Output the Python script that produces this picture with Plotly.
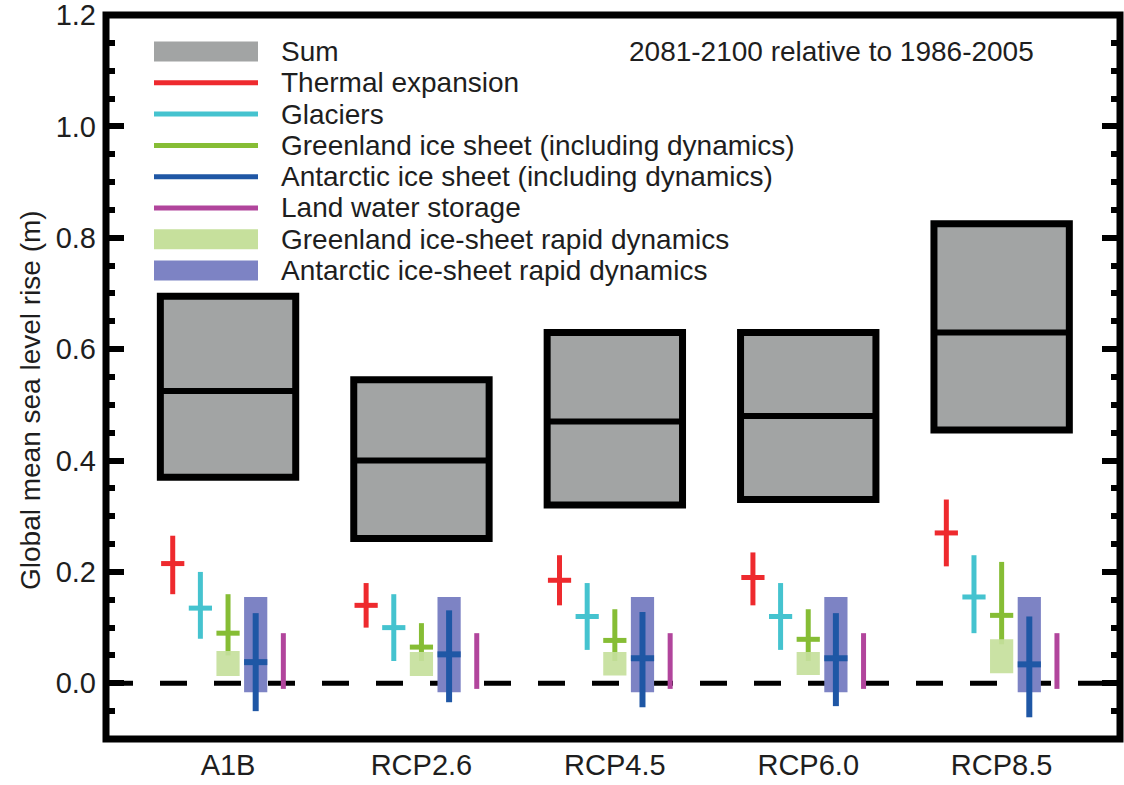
import plotly.graph_objects as go

# ---------------------------------------------------------------------------
# Projected global mean sea level rise, 2081-2100 relative to 1986-2005 (m)
# ---------------------------------------------------------------------------
scenarios = ["A1B", "RCP2.6", "RCP4.5", "RCP6.0", "RCP8.5"]

sum_low = [0.37, 0.26, 0.32, 0.33, 0.455]
sum_median = [0.525, 0.40, 0.47, 0.48, 0.63]
sum_high = [0.695, 0.545, 0.63, 0.63, 0.825]

thermal_low = [0.16, 0.10, 0.14, 0.14, 0.21]
thermal_median = [0.215, 0.14, 0.185, 0.19, 0.27]
thermal_high = [0.265, 0.18, 0.23, 0.235, 0.33]

glaciers_low = [0.08, 0.04, 0.06, 0.06, 0.09]
glaciers_median = [0.135, 0.10, 0.12, 0.12, 0.155]
glaciers_high = [0.20, 0.16, 0.18, 0.18, 0.23]

greenland_low = [0.05, 0.04, 0.04, 0.04, 0.07]
greenland_median = [0.09, 0.065, 0.077, 0.079, 0.122]
greenland_high = [0.16, 0.108, 0.133, 0.133, 0.218]

antarctic_low = [-0.05, -0.034, -0.043, -0.041, -0.061]
antarctic_median = [0.038, 0.052, 0.045, 0.045, 0.034]
antarctic_high = [0.126, 0.131, 0.128, 0.126, 0.12]

land_low = [-0.01, -0.01, -0.01, -0.01, -0.01]
land_high = [0.09, 0.09, 0.09, 0.09, 0.09]

greenland_rapid_low = [0.013, 0.013, 0.014, 0.015, 0.018]
greenland_rapid_high = [0.058, 0.056, 0.056, 0.056, 0.079]

antarctic_rapid_low = [-0.016, -0.016, -0.016, -0.016, -0.016]
antarctic_rapid_high = [0.155, 0.155, 0.155, 0.155, 0.155]

y_ticks = [0.0, 0.2, 0.4, 0.6, 0.8, 1.0, 1.2]

# ---------------------------------------------------------------------------
# Styling
# ---------------------------------------------------------------------------
FONT = "Liberation Sans, Arial, Helvetica, sans-serif"
TEXT = "#1e1e1e"
C_SUM = "#a2a4a4"
C_THERMAL = "#ee2a2e"
C_GLACIERS = "#45c3cf"
C_GREENLAND = "#86bd35"
C_ANTARCTIC = "#1f57a5"
C_LAND = "#b1459c"
C_GREEN_RAPID = "#c6e09c"
C_ANT_RAPID = "#7d83c4"

W, H = 1124, 785
M_L, M_R, M_T, M_B = 106, 4, 15, 46
PLOT_W = W - M_L - M_R
PLOT_H = H - M_T - M_B

x_pos = [i + 1 for i in range(len(scenarios))]
SUM_HALF = 0.35
CROSS_HALF = 0.06
BOX_HALF = 0.06
STEP = 0.143  # spacing between component whiskers


def px_x(p):
    return (p - M_L) / PLOT_W


def px_y(p):
    return (H - M_B - p) / PLOT_H


def whiskers(offset, lows, highs, mids=None):
    xs, ys = [], []
    for i, x in enumerate(x_pos):
        xc = x + offset
        xs += [xc, xc, None]
        ys += [lows[i], highs[i], None]
        if mids is not None:
            xs += [xc - CROSS_HALF, xc + CROSS_HALF, None]
            ys += [mids[i], mids[i], None]
    return xs, ys


def boxes(offset, lows, highs):
    xs, ys = [], []
    for i, x in enumerate(x_pos):
        x0, x1 = x + offset - BOX_HALF, x + offset + BOX_HALF
        xs += [x0, x1, x1, x0, x0, None]
        ys += [lows[i], lows[i], highs[i], highs[i], lows[i], None]
    return xs, ys


fig = go.Figure()


def add_whisker(offset, lows, highs, mids, color, width=5):
    xs, ys = whiskers(offset, lows, highs, mids)
    fig.add_trace(go.Scatter(x=xs, y=ys, mode="lines",
                             line=dict(color=color, width=width),
                             hoverinfo="skip", showlegend=False))


add_whisker(-2 * STEP, thermal_low, thermal_high, thermal_median, C_THERMAL)
add_whisker(-STEP, glaciers_low, glaciers_high, glaciers_median, C_GLACIERS)
add_whisker(0, greenland_low, greenland_high, greenland_median, C_GREENLAND)

gx, gy = boxes(0, greenland_rapid_low, greenland_rapid_high)
fig.add_trace(go.Scatter(x=gx, y=gy, mode="lines", fill="toself",
                         fillcolor=C_GREEN_RAPID, opacity=0.92,
                         line=dict(width=0, color=C_GREEN_RAPID),
                         hoverinfo="skip", showlegend=False))

add_whisker(STEP, antarctic_low, antarctic_high, antarctic_median, C_ANTARCTIC, 6)
add_whisker(2 * STEP, land_low, land_high, None, C_LAND)

shapes = []
# Sum ranges with median bar
for i, x in enumerate(x_pos):
    shapes.append(dict(type="rect", xref="x", yref="y", layer="below",
                       x0=x - SUM_HALF, x1=x + SUM_HALF,
                       y0=sum_low[i], y1=sum_high[i],
                       fillcolor=C_SUM, line=dict(color="black", width=7)))
    shapes.append(dict(type="line", xref="x", yref="y", layer="below",
                       x0=x - SUM_HALF, x1=x + SUM_HALF,
                       y0=sum_median[i], y1=sum_median[i],
                       line=dict(color="black", width=6)))
# Antarctic rapid dynamics ranges
for i, x in enumerate(x_pos):
    shapes.append(dict(type="rect", xref="x", yref="y", layer="below",
                       x0=x + STEP - BOX_HALF, x1=x + STEP + BOX_HALF,
                       y0=antarctic_rapid_low[i], y1=antarctic_rapid_high[i],
                       fillcolor=C_ANT_RAPID, line=dict(width=0)))
# Zero reference line
shapes.append(dict(type="line", xref="paper", yref="y", layer="below",
                   x0=0, x1=1, y0=0, y1=0,
                   line=dict(color="black", width=5, dash="27px,27px")))
# Heavy frame
shapes.append(dict(type="rect", xref="paper", yref="paper", layer="above",
                   x0=0, x1=1, y0=0, y1=1,
                   line=dict(color="black", width=7)))

# Legend drawn in paper coordinates
legend_items = [
    ("Sum", C_SUM, "box"),
    ("Thermal expansion", C_THERMAL, "line"),
    ("Glaciers", C_GLACIERS, "line"),
    ("Greenland ice sheet (including dynamics)", C_GREENLAND, "line"),
    ("Antarctic ice sheet (including dynamics)", C_ANTARCTIC, "line"),
    ("Land water storage", C_LAND, "line"),
    ("Greenland ice-sheet rapid dynamics", C_GREEN_RAPID, "box"),
    ("Antarctic ice-sheet rapid dynamics", C_ANT_RAPID, "box"),
]
annotations = []
LEG_X0, LEG_X1, LEG_TEXT = 154, 258, 279
LEG_Y0, LEG_DY = 51.5, 31.3
for k, (label, color, kind) in enumerate(legend_items):
    yc = LEG_Y0 + k * LEG_DY
    if kind == "box":
        shapes.append(dict(type="rect", xref="paper", yref="paper",
                           x0=px_x(LEG_X0), x1=px_x(LEG_X1),
                           y0=px_y(yc + 10), y1=px_y(yc - 10),
                           fillcolor=color, line=dict(width=0)))
    else:
        shapes.append(dict(type="line", xref="paper", yref="paper",
                           x0=px_x(LEG_X0), x1=px_x(LEG_X1),
                           y0=px_y(yc), y1=px_y(yc),
                           line=dict(color=color, width=5)))
    annotations.append(dict(xref="paper", yref="paper", x=px_x(LEG_TEXT),
                            y=px_y(yc), xanchor="left", yanchor="middle",
                            text=label, showarrow=False,
                            font=dict(family=FONT, size=28, color=TEXT)))

annotations.append(dict(xref="paper", yref="paper", x=px_x(1036),
                        y=px_y(52), xanchor="right", yanchor="middle",
                        text="2081-2100 relative to 1986-2005", showarrow=False,
                        font=dict(family=FONT, size=28, color=TEXT)))

# Y-axis title placed as rotated text beside the tick labels
annotations.append(dict(xref="paper", yref="paper", x=px_x(30), y=px_y(400),
                        xanchor="center", yanchor="middle", textangle=-90,
                        text="Global mean sea level rise (m)", showarrow=False,
                        font=dict(family=FONT, size=28, color=TEXT)))

fig.update_layout(
    width=W, height=H,
    margin=dict(l=M_L, r=M_R, t=M_T, b=M_B, pad=0),
    paper_bgcolor="white", plot_bgcolor="white",
    font=dict(family=FONT, size=28, color=TEXT),
    showlegend=False,
    shapes=shapes,
    annotations=annotations,
    xaxis=dict(range=[0.369, 5.612], tickvals=x_pos, ticktext=scenarios,
               ticks="", showline=False, showgrid=False, zeroline=False,
               tickfont=dict(size=29), ticklabelstandoff=6, automargin=False),
    yaxis=dict(range=[-0.1, 1.2], tickvals=y_ticks,
               ticktext=["%.1f" % v for v in y_ticks],
               ticks="inside", ticklen=18, tickwidth=6, tickcolor="black",
               mirror="ticks", showline=False, showgrid=False, zeroline=False,
               tickfont=dict(size=29), ticklabelstandoff=9, automargin=False,
               ticklabeloverflow="allow",
               minor=dict(dtick=0.05, tick0=0, ticks="inside", ticklen=9,
                          tickwidth=6, tickcolor="black", showgrid=False)),
)

fig.write_html("out.html")
